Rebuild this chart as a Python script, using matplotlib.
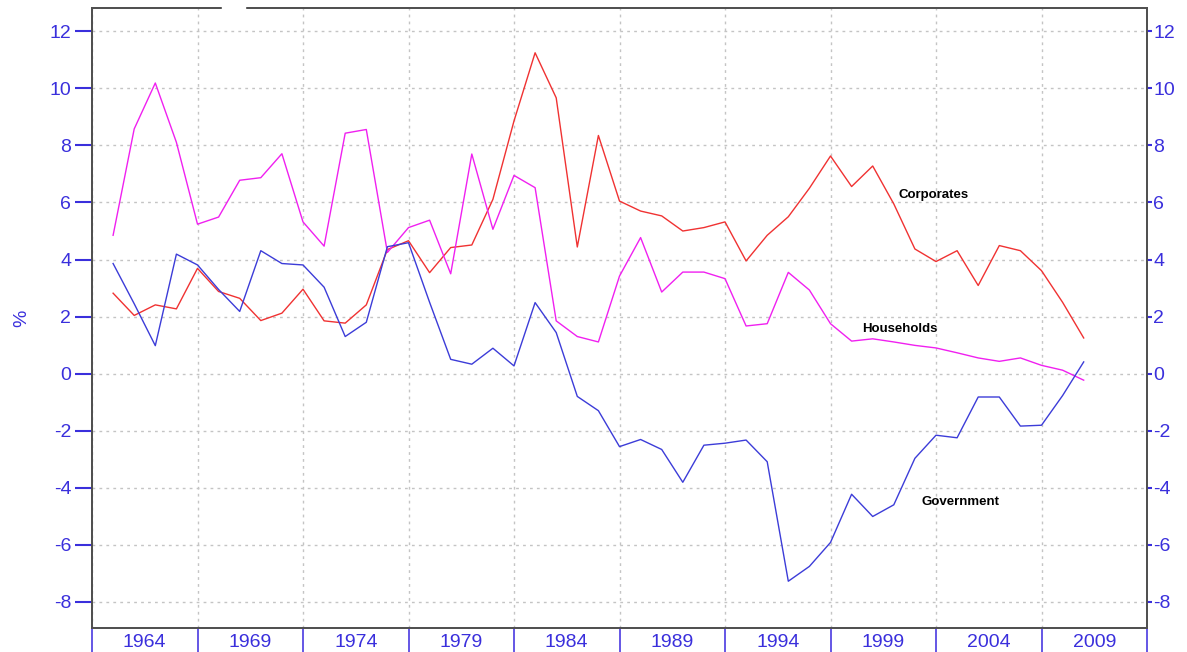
import numpy as np
import matplotlib
matplotlib.use("Agg")
import matplotlib.pyplot as plt
from matplotlib.patches import Rectangle

plt.rcParams['font.family'] = ['Liberation Sans', 'DejaVu Sans']

# annual values, %
years = np.arange(1963, 2010)

corporates = [2.82, 2.04, 2.41, 2.27, 3.69, 2.88, 2.64, 1.86, 2.12, 2.96,
              1.85, 1.77, 2.41, 4.35, 4.66, 3.54, 4.42, 4.51, 6.11, 8.86,
              11.25, 9.67, 4.44, 8.35, 6.05, 5.70, 5.53, 5.00, 5.12, 5.32,
              3.95, 4.85, 5.50, 6.50, 7.63, 6.56, 7.28, 5.95, 4.37, 3.93,
              4.31, 3.09, 4.49, 4.31, 3.61, 2.50, 1.25]

households = [4.85, 8.58, 10.19, 8.11, 5.24, 5.49, 6.78, 6.87, 7.71, 5.32,
              4.47, 8.43, 8.56, 4.25, 5.12, 5.38, 3.50, 7.70, 5.06, 6.95,
              6.52, 1.85, 1.30, 1.11, 3.42, 4.77, 2.86, 3.56, 3.56, 3.33,
              1.67, 1.75, 3.55, 2.93, 1.75, 1.14, 1.22, 1.11, 0.99, 0.90,
              0.73, 0.55, 0.43, 0.55, 0.29, 0.12, -0.23]

government = [3.86, 2.45, 0.98, 4.19, 3.81, 2.95, 2.18, 4.31, 3.86, 3.81,
              3.03, 1.30, 1.80, 4.45, 4.59, 2.50, 0.50, 0.33, 0.89, 0.27,
              2.49, 1.44, -0.80, -1.30, -2.56, -2.31, -2.66, -3.81, -2.51, -2.44,
              -2.33, -3.09, -7.28, -6.76, -5.92, -4.23, -5.01, -4.60, -2.97, -2.16,
              -2.25, -0.82, -0.82, -1.84, -1.81, -0.77, 0.41]

band_edges = np.arange(1962, 2013, 5)
band_labels = ['1964', '1969', '1974', '1979', '1984', '1989', '1994', '1999', '2004', '2009']

BLUE_TXT = '#3a2fdc'

W, H = 1187, 652
fig = plt.figure(figsize=(W / 100, H / 100), dpi=100)
ax = fig.add_axes([92 / W, (H - 628) / H, (1147 - 92) / W, (628 - 8) / H])

ax.plot(years, corporates, color='#f03232', lw=1.0)
ax.plot(years, households, color='#f020f0', lw=1.0)
ax.plot(years, government, color='#3c3cd8', lw=1.0)

ax.set_xlim(1962, 2012)
ax.set_ylim(-8.92, 12.82)

# y axis: left ticks long, right ticks short
yt = np.arange(-8, 13, 2)
ax.set_yticks(yt)
ax.set_yticklabels([str(v) for v in yt])
ax.tick_params(axis='y', direction='out', length=12.5, width=1.5, color=BLUE_TXT,
               labelcolor=BLUE_TXT, labelsize=14, pad=2.5)
ax2 = ax.twinx()
ax2.set_ylim(ax.get_ylim())
ax2.set_yticks(yt)
ax2.set_yticklabels([str(v) for v in yt])
ax2.tick_params(axis='y', direction='out', length=3.5, width=1.5, color=BLUE_TXT,
                labelcolor=BLUE_TXT, labelsize=14, pad=1)

# x axis: band separators as long major ticks, year labels on minor ticks
ax.set_xticks(band_edges)
ax.set_xticklabels([''] * len(band_edges))
ax.tick_params(axis='x', which='major', direction='out', length=18, width=1.2, color='#4a3ae0')
ax.set_xticks(band_edges[:-1] + 2.5, minor=True)
ax.set_xticklabels(band_labels, minor=True)
ax.tick_params(axis='x', which='minor', length=0, labelcolor=BLUE_TXT, labelsize=14, pad=4)

ax.grid(True, which='major', color='#c4c4c4', linestyle=(0, (2, 3)), linewidth=1.0)

for a in (ax, ax2):
    for s in a.spines.values():
        s.set_color('#505050')
        s.set_linewidth(1.3)

ax.set_ylabel('%', color=BLUE_TXT, fontsize=14, labelpad=14)

ax.text(2000.2, 6.25, 'Corporates', fontsize=9.5, fontweight='bold', ha='left', va='center')
ax.text(1998.5, 1.55, 'Households', fontsize=9.5, fontweight='bold', ha='left', va='center')
ax.text(2001.3, -4.5, 'Government', fontsize=9.5, fontweight='bold', ha='left', va='center')

# small gap in the top frame
fig.patches.append(Rectangle((222 / W, (H - 12) / H), 23 / W, 8 / H,
                             transform=fig.transFigure, color='white', zorder=10))

fig.savefig('out.png', dpi=100)
